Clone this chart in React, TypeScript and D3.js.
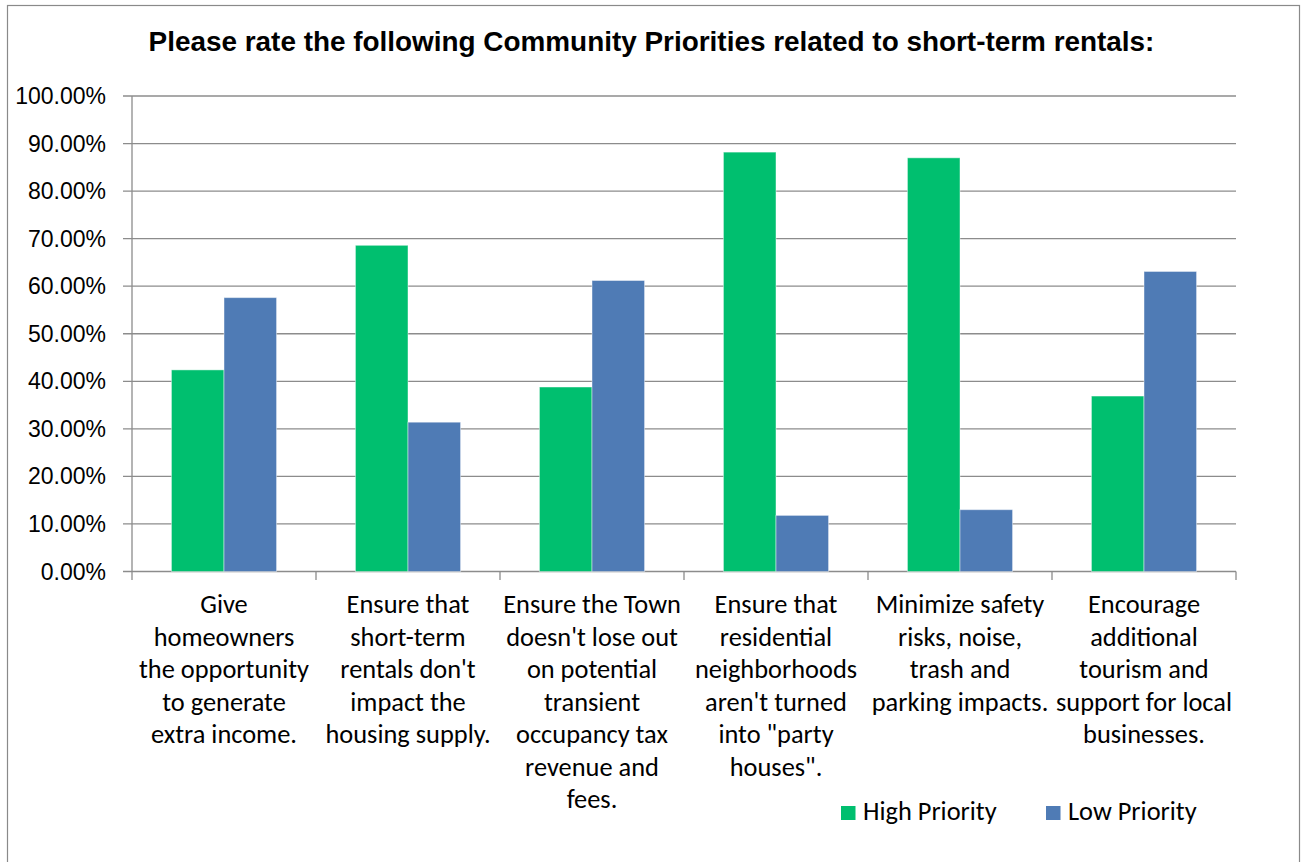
import React from "react";
import * as d3 from "d3";

const title = "Please rate the following Community Priorities related to short-term rentals:";
const categories = [
  "Give homeowners the opportunity to generate extra income.",
  "Ensure that short-term rentals don't impact the housing supply.",
  "Ensure the Town doesn't lose out on potential transient occupancy tax revenue and fees.",
  "Ensure that residential neighborhoods aren't turned into \"party houses\".",
  "Minimize safety risks, noise, trash and parking impacts.",
  "Encourage additional tourism and support for local businesses.",
];
const categoryLines = [
  ["Give", "homeowners", "the opportunity", "to generate", "extra income."],
  ["Ensure that", "short-term", "rentals don't", "impact the", "housing supply."],
  ["Ensure the Town", "doesn't lose out", "on potential", "transient", "occupancy tax", "revenue and", "fees."],
  ["Ensure that", "residential", "neighborhoods", "aren't turned", "into \"party", "houses\"."],
  ["Minimize safety", "risks, noise,", "trash and", "parking impacts."],
  ["Encourage", "additional", "tourism and", "support for local", "businesses."],
];
const seriesNames = ["High Priority", "Low Priority"];
const highPriority = [0.424, 0.686, 0.388, 0.882, 0.87, 0.369];
const lowPriority = [0.576, 0.314, 0.612, 0.118, 0.13, 0.631];
const yTicks = [0, 0.1, 0.2, 0.3, 0.4, 0.5, 0.6, 0.7, 0.8, 0.9, 1.0];
const colors = ["#00BF6F", "#4F7BB5"];

export default function App() {
  const W = 1302, H = 862;
  const left = 132, right = 1236, top = 96, bottom = 571.5;
  const x0 = d3.scaleBand<string>().domain(categories).range([left, right]).padding(0);
  const x1 = d3.scaleBand<string>().domain(seriesNames).range([0, x0.bandwidth()]).paddingInner(0).paddingOuter(0.75);
  const y = d3.scaleLinear().domain([0, 1]).range([bottom, top]);
  const fmt = d3.format(".2%");
  const values = [highPriority, lowPriority];
  const grid = "#8c8c8c";
  const catFont = "Carlito, Calibri, Lato, sans-serif";
  const catSize = 26.4;
  const boundaries = categories.map((c) => x0(c)!).concat([right]);

  return (
    <svg width={W} height={H} style={{ position: "absolute", left: 0, top: 0, background: "#fff" }}>
      <rect x={0} y={0} width={W} height={H} fill="#fff" />
      <rect x={7.5} y={5.5} width={1292} height={900} fill="none" stroke="#8a8a8a" strokeWidth={1.2} />
      <text x={651.5} y={51} textAnchor="middle" fontFamily="'Liberation Sans', Arial, sans-serif" fontWeight="bold" fontSize={27.9} fill="#000">
        {title}
      </text>
      {yTicks.map((t) => (
        <g key={t}>
          <line x1={123} x2={right} y1={y(t)} y2={y(t)} stroke={grid} strokeWidth={1.3} />
          <text x={106} y={y(t)} dy="0.35em" textAnchor="end" fontFamily="'Liberation Sans', Arial, sans-serif" fontSize={23} fill="#000">
            {fmt(t)}
          </text>
        </g>
      ))}
      <line x1={left} x2={left} y1={top} y2={bottom} stroke={grid} strokeWidth={1.3} />
      {boundaries.map((bx, i) => (
        <line key={i} x1={bx} x2={bx} y1={bottom} y2={580} stroke={grid} strokeWidth={1.3} />
      ))}
      {categories.map((c, ci) => (
        <g key={c}>
          {seriesNames.map((s, si) => {
            const v = values[si][ci];
            return (
              <rect
                key={s}
                x={x0(c)! + x1(s)!}
                y={y(v)}
                width={x1.bandwidth()}
                height={y(0) - y(v)}
                fill={colors[si]}
                stroke="#ffffff"
                strokeOpacity={0.45}
                strokeWidth={1}
              />
            );
          })}
          {categoryLines[ci].map((ln, li) => (
            <text
              key={li}
              x={x0(c)! + x0.bandwidth() / 2}
              y={613 + li * 32.5}
              textAnchor="middle"
              fontFamily={catFont}
              fontSize={catSize}
              fill="#000"
            >
              {ln}
            </text>
          ))}
        </g>
      ))}
      {seriesNames.map((s, si) => {
        const lx = [841, 1046][si];
        return (
          <g key={s}>
            <rect x={lx} y={806} width={14.5} height={14} fill={colors[si]} />
            <text x={lx + 22} y={819.5} fontFamily={catFont} fontSize={catSize} fill="#000">
              {s}
            </text>
          </g>
        );
      })}
    </svg>
  );
}
